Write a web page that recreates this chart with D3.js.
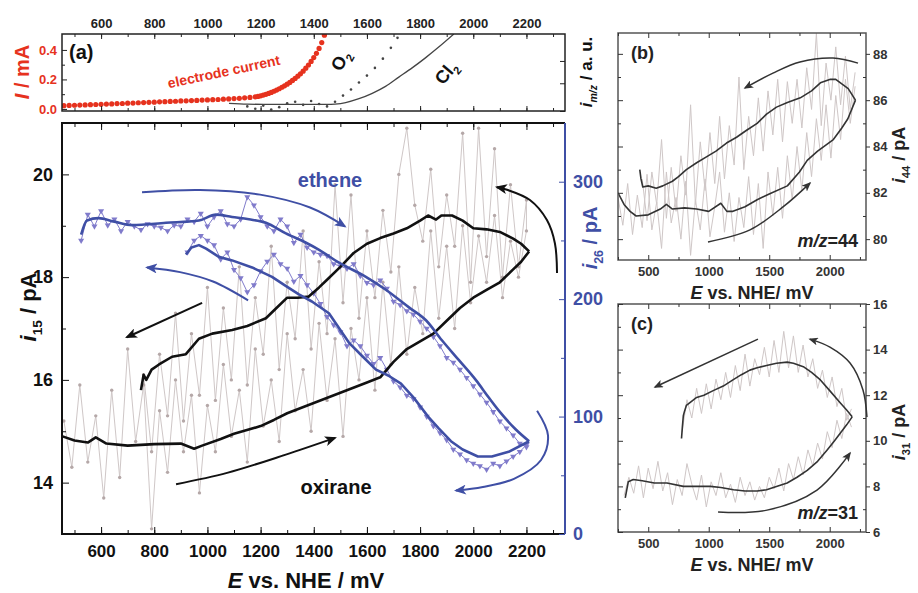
<!DOCTYPE html>
<html><head><meta charset="utf-8">
<script src="https://cdn.jsdelivr.net/npm/d3@7"></script>
<style>
body{margin:0;background:#fff}
svg{display:block}
text{font-family:"Liberation Sans",Arial,sans-serif;font-weight:bold}
</style>
</head><body>
<svg id="chart" width="918" height="593"></svg>
<script>
// ---------------- DATA ----------------
// Panel (a): electrode current (mA)
const curE = d3.range(460, 1181, 20).concat(d3.range(1190, 1441, 10));
const curI = [.022,.024,.025,.026,.027,.029,.030,.031,.033,.034,.036,.037,.039,.040,.042,.043,.045,.046,.048,.049,
  .051,.052,.054,.055,.057,.058,.060,.061,.063,.064,.066,.068,.070,.072,.075,.078,.082,
  .085,.089,.094,.099,.105,.112,.120,.128,.137,.147,.157,.168,.180,.193,.207,.222,.238,.256,.276,.298,
  .322,.348,.377,.41,.45,.50];
// Panel (a): O2 and Cl2 MS signals (a.u.)
const o2E = [1150,1180,1210,1240,1270,1300,1330,1360,1390,1420,1450,1480,1510,1540,1570,1600,1630,1660,1690,1715];
const o2V = [.06,.03,.07,.02,.05,.10,.12,.08,.13,.09,.06,.12,.20,.28,.37,.46,.56,.68,.82,.95];
const cl2E = [1081,1150,1250,1350,1450,1480,1520,1570,1620,1670,1720,1770,1820,1870,1927];
const cl2V = [.10,.09,.085,.085,.085,.09,.11,.16,.23,.32,.44,.56,.69,.83,1.0];

// Main panel: m/z=15 raw (pA)
const rawFwdE = d3.range(460, 2201, 30);
const rawFwd15 = [15.2,14.3,15.9,14.4,15.3,13.7,15.8,14.1,16.6,14.8,15.9,13.1,15.4,14.2,16.0,14.6,15.7,13.8,15.5,14.6,
  16.3,14.9,15.8,14.4,16.6,15.1,16.0,14.8,16.9,15.4,16.2,15.0,17.1,15.6,16.8,14.9,17.0,16.0,17.6,15.8,
  17.9,16.3,18.2,16.5,17.8,16.9,18.9,17.2,18.6,17.0,19.0,17.5,18.8,17.9,19.2,17.6,18.7,18.0,18.9];
const rawBwdE = d3.range(2200, 759, -30);
const rawBwd15 = [19.5,18.2,19.8,18.0,20.5,18.4,20.9,17.9,20.8,18.6,19.6,18.2,20.1,18.7,19.4,20.9,20.0,18.1,19.3,17.6,
  18.9,17.2,19.6,17.5,19.8,16.9,18.3,16.6,18.9,16.8,17.9,16.2,18.6,16.5,17.6,15.9,18.2,16.0,17.4,15.6,
  17.8,15.7,16.9,15.2,17.3,15.3,16.5,14.6,16.1];
// Main panel: m/z=15 smoothed (oxirane)
const oxFwdE = [455,500,550,580,620,700,800,900,950,980,1050,1100,1200,1250,1300,1400,1500,1600,1650,1700,1750,1800,1850,1900,1950,2000,2050,2100,2150,2180,2210];
const oxFwd = [14.9,14.82,14.78,14.88,14.76,14.72,14.75,14.76,14.66,14.72,14.85,14.95,15.1,15.22,15.35,15.55,15.75,15.95,16.05,16.35,16.6,16.75,16.9,17.15,17.4,17.6,17.75,17.9,18.15,18.3,18.5];
const oxBwdE = [2210,2180,2150,2100,2050,2000,1960,1920,1880,1860,1830,1800,1750,1700,1650,1600,1550,1500,1450,1420,1380,1340,1300,1250,1220,1150,1093,1018,968,919,867,818,790,770,760,750];
const oxBwd = [18.5,18.65,18.75,18.88,18.93,18.95,19.1,19.2,19.2,19.12,19.2,19.1,18.95,18.85,18.76,18.65,18.47,18.2,17.95,17.8,17.62,17.6,17.6,17.35,17.2,17.05,16.97,16.9,16.8,16.5,16.45,16.3,16.2,16.0,16.1,15.8];
// Main panel: m/z=26 (ethene) raw and smoothed (pA)
const ethRawFwdE = d3.range(525, 2201, 25);
const ethRawFwd = [250,272,262,275,263,268,258,266,262,259,264,262,261,258,263,262,268,266,273,262,
  270,275,264,262,268,287,280,270,262,258,268,262,248,255,244,240,238,237,230,228,
  226,230,220,214,212,216,209,198,195,190,187,181,175,168,160,150,146,140,133,126,
  119,112,104,96,90,84,77,74];
const ethRawBwdE = d3.range(2200, 924, -25);
const ethRawBwd = [76,70,66,62,58,60,55,58,60,63,68,72,80,86,92,100,108,115,118,125,
  130,140,150,145,152,160,165,160,172,178,185,196,205,212,220,215,226,230,238,232,
  224,212,206,218,225,240,234,246,250,254,250,240];
const ethFwdE = [525,547,590,650,717,844,968,1032,1093,1156,1220,1295,1371,1420,1495,1596,1671,1758,1822,1882,1946,2010,2059,2100,2160,2210];
const ethFwd = [255,267,269,266,263,265,267,272,270,268,265,256,248,242,231,219,208,193,182,165,148,131,116,104,89,79];
const ethBwdE = [2210,2133,2070,2017,1960,1916,1870,1830,1780,1728,1680,1634,1580,1532,1457,1393,1344,1290,1243,1168,1093,1043,995,968,940,919];
const ethBwd = [79,70,66,66,72,79,90,100,115,128,135,140,152,163,188,198,204,212,219,227,233,236,243,246,244,238];

// Panel (b): m/z=44
const bFwdE = [250,300,350,400,500,600,650,700,800,900,1000,1100,1150,1200,1300,1400,1500,1650,1750,1814,1900,2030,2100,2150,2213];
const bFwd = [82.0,81.5,81.2,81.0,81.05,81.3,81.5,81.3,81.35,81.3,81.2,81.55,81.2,81.2,81.4,81.7,81.95,82.3,82.9,83.4,83.8,84.3,84.8,85.2,86.0];
const bBwdE = [2213,2153,2100,2050,2006,1923,1850,1757,1650,1560,1478,1400,1313,1230,1147,1060,981,900,815,750,700,620,566,500,455,440,430];
const bBwd = [86.0,86.5,86.7,86.9,86.9,86.75,86.4,86.1,85.9,85.7,85.4,85.0,84.7,84.4,84.15,83.8,83.55,83.3,83.0,82.7,82.5,82.3,82.2,82.3,82.25,82.6,83.0];
const bRawFwdE = d3.range(250, 2211, 40);
const bRawFwd = [81.8,80.6,82.4,80.2,81.9,80.5,82.8,80.4,81.6,79.6,82.9,80.7,81.8,80.0,82.5,79.3,81.7,80.4,82.6,80.1,
  81.4,82.9,80.3,82.0,79.9,81.8,80.5,82.7,80.2,82.4,79.6,82.9,81.0,83.1,80.9,83.6,81.7,84.0,82.1,84.6,
  82.7,85.2,83.4,85.8,83.5,86.2,84.3,86.9,85.0,86.6];
const bRawBwdE = d3.range(2210, 449, -40);
const bRawBwd = [87.2,85.6,87.9,85.8,88.3,86.0,87.6,84.9,88.9,85.6,87.4,84.8,86.9,85.0,86.8,84.2,86.9,84.5,86.4,83.8,
  86.1,83.6,85.3,83.0,87.0,83.2,84.9,82.6,85.3,82.4,84.6,82.1,84.2,81.5,85.8,81.9,83.6,81.2,83.1,80.9,
  84.3,81.5,82.9,80.8,82.6];

// Panel (c): m/z=31
const cFwdE = [310,335,376,450,550,655,790,900,1014,1100,1205,1300,1400,1478,1560,1648,1730,1814,1900,1979,2040,2090,2140,2186];
const cFwd = [7.5,8.2,8.3,8.25,8.15,8.15,8.0,8.0,8.0,7.95,7.85,7.8,7.8,7.85,8.0,8.15,8.4,8.7,9.1,9.6,10.0,10.35,10.7,11.05];
const cBwdE = [2186,2140,2090,2000,1923,1850,1782,1700,1648,1560,1478,1400,1340,1270,1200,1120,1037,960,900,850,815,800,790,782,775];
const cBwd = [11.05,11.35,11.65,12.2,12.67,13.0,13.25,13.4,13.45,13.4,13.3,13.2,13.1,12.9,12.67,12.4,12.2,12.0,11.9,11.7,11.55,11.3,11.1,10.6,10.1];
const cRawFwdE = d3.range(300, 2181, 40);
const cRawFwd = [7.6,8.4,7.7,8.9,7.5,8.8,7.9,9.1,7.8,8.6,7.2,8.3,7.6,9.0,8.1,7.4,8.5,7.1,8.2,7.6,
  8.6,7.5,8.1,7.3,8.4,7.6,8.2,7.4,8.0,7.5,8.4,7.9,8.8,7.8,9.0,8.3,9.3,8.5,9.6,8.9,
  9.9,9.2,10.4,9.7,10.9,10.1,11.2,10.6];
const cRawBwdE = d3.range(2180, 779, -40);
const cRawBwd = [11.4,10.9,12.3,11.5,12.8,11.9,13.1,12.3,13.6,12.8,14.2,13.0,14.6,13.2,14.8,13.0,14.4,12.8,14.1,12.9,
  13.6,12.4,13.8,12.2,13.3,11.9,13.0,11.8,12.7,11.4,12.5,11.2,12.3,11.0,11.8,10.4];

// Tick values
const mainMajor = d3.range(600, 2201, 200);
const mainMinor = d3.range(500, 2301, 100);
const mainYMajor = [14, 16, 18, 20];
const mainYMinor = [13, 15, 17, 19, 21];
const blueMajor = [0, 100, 200, 300];
const blueMinor = [50, 150, 250];
const aYMajor = [0.0, 0.2, 0.4];
const aYMinor = [0.1, 0.3];
const smallXMajor = [500, 1000, 1500, 2000];
const smallXMinor = [250, 750, 1250, 1750, 2250];
const bYMajor = [80, 82, 84, 86, 88];
const bYMinor = [81, 83, 85, 87];
const cYMajor = [6, 8, 10, 12, 14, 16];
const cYMinor = [7, 9, 11, 13, 15];

// Annotation arrows (data coordinates)
const arrBlueTop = [[754,291],[972,293],[1198,289],[1386,278],[1517,262]];
const arrBlueMid = [[1153,199],[1021,215],[897,223],[773,227]];
const arrBlackLeft = [[980,17.5],[697,16.83]];
const arrOxirane = [[882,13.97],[1074,14.19],[1292,14.54],[1480,14.87]];
const arrBlueRight = [[2240,105],[2281,84],[2255,63],[2153,47],[2036,40],[1935,37]];
const arrBlackRight = [[2315,18.08],[2307,18.66],[2277,19.11],[2213,19.5],[2127,19.7],[2089,19.75]];
const arrBTop = [[2234,87.6],[2027,87.82],[1754,87.65],[1531,87.17],[1300,86.53]];
const arrBBot = [[994,79.88],[1341,80.4],[1614,81.39],[1837,82.42]];
const arrCTop = [[1407,14.46],[556,12.36]];
const arrCRight = [[2308,11.04],[2275,12.23],[2168,13.41],[2002,14.11],[1837,14.46]];
const arrCBot = [[1077,6.88],[1482,6.96],[1895,7.84],[2168,9.46]];

// ---------------- COLORS ----------------
const RED = "#e6321e", BLUE = "#3f4fa5", BLUE_RAW = "#807bcb", GRAY_RAW = "#cfc7c7", GRAY_DOT = "#b5a8a8", DARK = "#333";

// ---------------- SCALES ----------------
const xMain = d3.scaleLinear([453, 2345], [62, 565]);
const yMain = d3.scaleLinear([13, 21], [534, 123]);
const yBlue = d3.scaleLinear([0, 350], [534, 123]);
const yA = d3.scaleLinear([-0.014, 0.508], [111, 34]);
const yAU = d3.scaleLinear([0, 1], [111, 34]);
const xS = d3.scaleLinear([250, 2300], [618, 866]);
const yB = d3.scaleLinear([79.1, 88.9], [260, 33]);
const yC = d3.scaleLinear([6, 16], [532, 304]);

const svg = d3.select("#chart");
const FONT = '"Liberation Sans",Arial,sans-serif';

// markers
const defs = svg.append("defs");
function marker(id, color, w, h) {
  defs.append("marker").attr("id", id).attr("viewBox", "0 0 12 10")
    .attr("refX", 10).attr("refY", 5).attr("markerWidth", w).attr("markerHeight", h)
    .attr("markerUnits", "userSpaceOnUse").attr("orient", "auto")
    .append("path").attr("d", "M0,0 L12,5 L0,10 L3,5 Z").attr("fill", color);
}
marker("mBlack", "#111", 13, 10);
marker("mBlue", BLUE, 13, 10);
marker("mDark", DARK, 10, 8);

// clip paths
defs.append("clipPath").attr("id", "clipA").append("rect").attr("x", 62).attr("y", 34).attr("width", 503).attr("height", 77);
defs.append("clipPath").attr("id", "clipM").append("rect").attr("x", 62).attr("y", 123).attr("width", 503).attr("height", 411);
defs.append("clipPath").attr("id", "clipB").append("rect").attr("x", 618).attr("y", 33).attr("width", 248).attr("height", 227);
defs.append("clipPath").attr("id", "clipC").append("rect").attr("x", 618).attr("y", 304).attr("width", 248).attr("height", 228);

function zip(a, b) { return a.map((v, i) => [v, b[i]]); }
function drawLine(g, pts, xs, ys, color, w, curve) {
  g.append("path").datum(pts)
    .attr("d", d3.line().x(d => xs(d[0])).y(d => ys(d[1])).curve(curve || d3.curveLinear))
    .attr("fill", "none").attr("stroke", color).attr("stroke-width", w).attr("stroke-linejoin", "round");
}
function arrow(pts, xs, ys, color, w, mk) {
  svg.append("path").datum(pts)
    .attr("d", d3.line().x(d => xs(d[0])).y(d => ys(d[1])).curve(d3.curveCatmullRom))
    .attr("fill", "none").attr("stroke", color).attr("stroke-width", w)
    .attr("marker-end", "url(#" + mk + ")");
}
function styleAxis(g, size, color) {
  g.select(".domain").remove();
  g.attr("font-family", FONT).attr("font-size", size).attr("font-weight", "bold").attr("color", color);
}
function richText(x, y, rot, size, color, parts, anchor) {
  const t = svg.append("text").attr("transform", `translate(${x},${y}) rotate(${rot})`)
    .attr("text-anchor", anchor || "middle").attr("font-size", size).attr("fill", color);
  let shifted = 0;
  parts.forEach(p => {
    const ts = t.append("tspan").text(p.t);
    if (p.it) ts.attr("font-style", "italic");
    if (p.sub) { ts.attr("font-size", size * 0.62).attr("dy", size * 0.28 - shifted); shifted = size * 0.28; }
    else if (shifted) { ts.attr("dy", -shifted); shifted = 0; }
  });
  return t;
}

// ---------------- PANEL (a) ----------------
const gA = svg.append("g").attr("clip-path", "url(#clipA)");
// O2 dotted
gA.selectAll("circle.o2").data(zip(o2E, o2V)).join("circle")
  .attr("cx", d => xMain(d[0])).attr("cy", d => yAU(d[1])).attr("r", 1.3).attr("fill", "#444");
// Cl2 solid
drawLine(gA, zip(cl2E, cl2V), xMain, yAU, "#444", 1.3, d3.curveMonotoneX);
// Electrode current dots
gA.selectAll("circle.cur").data(zip(curE, curI)).join("circle")
  .attr("cx", d => xMain(d[0])).attr("cy", d => yA(d[1])).attr("r", 2.6).attr("fill", RED);

svg.append("rect").attr("x", 62).attr("y", 34).attr("width", 503).attr("height", 77)
  .attr("fill", "none").attr("stroke", "#222").attr("stroke-width", 1.5);
// axes a
let g;
g = svg.append("g").attr("transform", "translate(0,34)")
  .call(d3.axisTop(xMain).tickValues(mainMajor).tickSize(-5).tickPadding(6).tickFormat(d3.format("d")));
styleAxis(g, 13, "#222");
g = svg.append("g").attr("transform", "translate(0,34)")
  .call(d3.axisTop(xMain).tickValues(mainMinor).tickSize(-3).tickFormat(""));
styleAxis(g, 13, "#222");
g = svg.append("g").attr("transform", "translate(0,111)")
  .call(d3.axisBottom(xMain).tickValues(mainMajor).tickSize(-5).tickFormat(""));
styleAxis(g, 13, "#222");
g = svg.append("g").attr("transform", "translate(0,111)")
  .call(d3.axisBottom(xMain).tickValues(mainMinor).tickSize(-3).tickFormat(""));
styleAxis(g, 13, "#222");
g = svg.append("g").attr("transform", "translate(62,0)")
  .call(d3.axisLeft(yA).tickValues(aYMajor).tickSize(-5).tickPadding(5).tickFormat(d3.format(".1f")));
styleAxis(g, 13, RED);
g.selectAll("line").attr("stroke", "#222");
g = svg.append("g").attr("transform", "translate(62,0)")
  .call(d3.axisLeft(yA).tickValues(aYMinor).tickSize(-3).tickFormat(""));
styleAxis(g, 13, "#222");
g = svg.append("g").attr("transform", "translate(565,0)")
  .call(d3.axisRight(yAU).tickValues([0, 0.36, 0.65]).tickSize(-5).tickFormat(""));
styleAxis(g, 13, "#222");

svg.append("text").attr("x", 69).attr("y", 59).attr("font-size", 20).attr("fill", "#111").text("(a)");
svg.append("text").attr("transform", `translate(${xMain(855)},${yA(0.14)}) rotate(-12)`)
  .attr("font-size", 14).attr("fill", RED).text("electrode current");
richText(xMain(1520), yA(0.31), -62, 18, "#111", [{t: "O"}, {t: "2", sub: true}]);
richText(xMain(1915), yA(0.22), -50, 18, "#111", [{t: "Cl"}, {t: "2", sub: true}]);
richText(22, 72, -90, 20, RED, [{t: "I", it: true}, {t: " / mA"}]).attr("dy", "0.35em");
richText(586, 72, -90, 17, "#111", [{t: "i", it: true}, {t: "m/z", sub: true, it: true}, {t: " / a. u."}]).attr("dy", "0.35em");

// ---------------- MAIN PANEL ----------------
const gM = svg.append("g").attr("clip-path", "url(#clipM)");
const rawPts = zip(rawFwdE, rawFwd15).concat(zip(rawBwdE, rawBwd15));
drawLine(gM, rawPts, xMain, yMain, GRAY_RAW, 1);
gM.selectAll("circle.raw").data(rawPts).join("circle")
  .attr("cx", d => xMain(d[0])).attr("cy", d => yMain(d[1])).attr("r", 1.7).attr("fill", GRAY_DOT);

// ethene raw
const ethRawPts1 = zip(ethRawFwdE, ethRawFwd), ethRawPts2 = zip(ethRawBwdE, ethRawBwd);
drawLine(gM, ethRawPts1, xMain, yBlue, BLUE_RAW, 1);
drawLine(gM, ethRawPts2, xMain, yBlue, BLUE_RAW, 1);
const tri = d3.symbol().type(d3.symbolTriangle).size(16);
gM.selectAll("path.tri").data(ethRawPts1.concat(ethRawPts2)).join("path")
  .attr("d", tri).attr("fill", BLUE_RAW)
  .attr("transform", d => `translate(${xMain(d[0])},${yBlue(d[1])}) rotate(180)`);

// oxirane smoothed (black)
drawLine(gM, zip(oxFwdE, oxFwd), xMain, yMain, "#111", 2.6);
drawLine(gM, zip(oxBwdE, oxBwd), xMain, yMain, "#111", 2.6);
// ethene smoothed (blue)
drawLine(gM, zip(ethFwdE, ethFwd), xMain, yBlue, BLUE, 2.6, d3.curveMonotoneX);
drawLine(gM, zip(ethBwdE, ethBwd), xMain, yBlue, BLUE, 2.6);

// frame
svg.append("path").attr("d", "M565,534 L62,534 L62,123 L565,123")
  .attr("fill", "none").attr("stroke", "#111").attr("stroke-width", 2);
svg.append("line").attr("x1", 565).attr("x2", 565).attr("y1", 123).attr("y2", 534)
  .attr("stroke", BLUE).attr("stroke-width", 2);

g = svg.append("g").attr("transform", "translate(0,534)")
  .call(d3.axisBottom(xMain).tickValues(mainMajor).tickSize(-7).tickPadding(11).tickFormat(d3.format("d")));
styleAxis(g, 17, "#111");
g = svg.append("g").attr("transform", "translate(0,534)")
  .call(d3.axisBottom(xMain).tickValues(mainMinor).tickSize(-4).tickFormat(""));
styleAxis(g, 17, "#111");
g = svg.append("g").attr("transform", "translate(0,123)")
  .call(d3.axisTop(xMain).tickValues(mainMajor).tickSize(-7).tickFormat(""));
styleAxis(g, 17, "#111");
g = svg.append("g").attr("transform", "translate(0,123)")
  .call(d3.axisTop(xMain).tickValues(mainMinor).tickSize(-4).tickFormat(""));
styleAxis(g, 17, "#111");
g = svg.append("g").attr("transform", "translate(62,0)")
  .call(d3.axisLeft(yMain).tickValues(mainYMajor).tickSize(-7).tickPadding(9).tickFormat(d3.format("d")));
styleAxis(g, 18, "#111");
g = svg.append("g").attr("transform", "translate(62,0)")
  .call(d3.axisLeft(yMain).tickValues(mainYMinor).tickSize(-4).tickFormat(""));
styleAxis(g, 18, "#111");
g = svg.append("g").attr("transform", "translate(565,0)")
  .call(d3.axisRight(yBlue).tickValues(blueMajor).tickSize(-6).tickPadding(8).tickFormat(d3.format("d")));
styleAxis(g, 18, BLUE);
g = svg.append("g").attr("transform", "translate(565,0)")
  .call(d3.axisRight(yBlue).tickValues(blueMinor).tickSize(-4).tickFormat(""));
styleAxis(g, 18, BLUE);

// arrows main
arrow(arrBlueTop, xMain, yBlue, BLUE, 2, "mBlue");
arrow(arrBlueMid, xMain, yBlue, BLUE, 2, "mBlue");
arrow(arrBlueRight, xMain, yBlue, BLUE, 2, "mBlue");
arrow(arrBlackLeft, xMain, yMain, "#111", 2, "mBlack");
arrow(arrOxirane, xMain, yMain, "#111", 2, "mBlack");
arrow(arrBlackRight, xMain, yMain, "#111", 2, "mBlack");

svg.append("text").attr("x", 330).attr("y", 187).attr("text-anchor", "middle")
  .attr("font-size", 20).attr("fill", BLUE).text("ethene");
svg.append("text").attr("x", 336).attr("y", 494).attr("text-anchor", "middle")
  .attr("font-size", 20).attr("fill", "#111").text("oxirane");

richText(28, 307, -90, 22, "#111", [{t: "i", it: true}, {t: "15", sub: true}, {t: " / pA"}]).attr("dy", "0.35em");
richText(590, 238, -90, 20, BLUE, [{t: "i", it: true}, {t: "26", sub: true}, {t: " / pA"}]).attr("dy", "0.35em");
richText(306, 588, 0, 22, "#111", [{t: "E", it: true}, {t: " vs. NHE / mV"}]);

// ---------------- PANELS (b) and (c) ----------------
function smallPanel(ys, top, bottom, clip, rawF, rawB, smF, smB, yMaj, yMin, letter, mz, ylabelSub, ylabelY) {
  const gp = svg.append("g").attr("clip-path", `url(#${clip})`);
  drawLine(gp, rawF, xS, ys, GRAY_RAW, 1);
  drawLine(gp, rawB, xS, ys, GRAY_RAW, 1);
  drawLine(gp, smF, xS, ys, DARK, 1.6);
  drawLine(gp, smB, xS, ys, DARK, 1.6);
  svg.append("rect").attr("x", 618).attr("y", top).attr("width", 248).attr("height", bottom - top)
    .attr("fill", "none").attr("stroke", "#555").attr("stroke-width", 1.5);
  let a;
  a = svg.append("g").attr("transform", `translate(0,${bottom})`)
    .call(d3.axisBottom(xS).tickValues(smallXMajor).tickSize(-5).tickPadding(7).tickFormat(d3.format("d")));
  styleAxis(a, 13, "#333");
  a = svg.append("g").attr("transform", `translate(0,${bottom})`)
    .call(d3.axisBottom(xS).tickValues(smallXMinor).tickSize(-3).tickFormat(""));
  styleAxis(a, 13, "#333");
  a = svg.append("g").attr("transform", `translate(0,${top})`)
    .call(d3.axisTop(xS).tickValues(smallXMajor).tickSize(-5).tickFormat(""));
  styleAxis(a, 13, "#333");
  a = svg.append("g").attr("transform", `translate(0,${top})`)
    .call(d3.axisTop(xS).tickValues(smallXMinor).tickSize(-3).tickFormat(""));
  styleAxis(a, 13, "#333");
  a = svg.append("g").attr("transform", "translate(618,0)")
    .call(d3.axisLeft(ys).tickValues(yMaj).tickSize(-5).tickFormat(""));
  styleAxis(a, 13, "#333");
  a = svg.append("g").attr("transform", "translate(618,0)")
    .call(d3.axisLeft(ys).tickValues(yMin).tickSize(-3).tickFormat(""));
  styleAxis(a, 13, "#333");
  a = svg.append("g").attr("transform", "translate(866,0)")
    .call(d3.axisRight(ys).tickValues(yMaj).tickSize(4).tickPadding(3).tickFormat(d3.format("d")));
  styleAxis(a, 13, "#333");
  a = svg.append("g").attr("transform", "translate(866,0)")
    .call(d3.axisRight(ys).tickValues(yMin).tickSize(-3).tickFormat(""));
  styleAxis(a, 13, "#333");
  svg.append("text").attr("x", 631).attr("y", top + 26).attr("font-size", 18).attr("fill", "#222").text(letter);
  const t = svg.append("text").attr("x", 858).attr("y", bottom - 13).attr("text-anchor", "end")
    .attr("font-size", 18).attr("fill", "#222");
  t.append("tspan").attr("font-style", "italic").text("m/z");
  t.append("tspan").text("=" + mz);
  richText(752, bottom + 39, 0, 18, "#222", [{t: "E", it: true}, {t: " vs. NHE/ mV"}]);
  richText(900, ylabelY, -90, 18, "#222", [{t: "i", it: true}, {t: ylabelSub, sub: true}, {t: " / pA"}]).attr("dy", "0.3em");
}
smallPanel(yB, 33, 260, "clipB", zip(bRawFwdE, bRawFwd), zip(bRawBwdE, bRawBwd), zip(bFwdE, bFwd), zip(bBwdE, bBwd),
  bYMajor, bYMinor, "(b)", "44", "44", 155);
smallPanel(yC, 304, 532, "clipC", zip(cRawFwdE, cRawFwd), zip(cRawBwdE, cRawBwd), zip(cFwdE, cFwd), zip(cBwdE, cBwd),
  cYMajor, cYMinor, "(c)", "31", "31", 432);

arrow(arrBTop, xS, yB, DARK, 1.5, "mDark");
arrow(arrBBot, xS, yB, DARK, 1.5, "mDark");
arrow(arrCTop, xS, yC, DARK, 1.5, "mDark");
arrow(arrCRight, xS, yC, DARK, 1.5, "mDark");
arrow(arrCBot, xS, yC, DARK, 1.5, "mDark");
</script>
</body></html>
